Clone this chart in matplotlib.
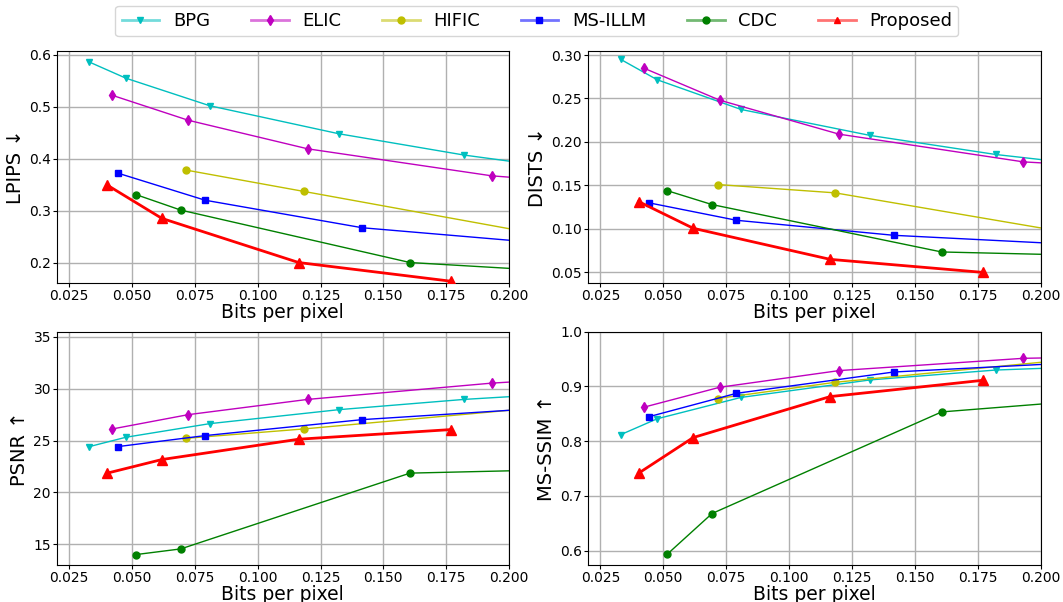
import matplotlib
matplotlib.use("Agg")
import matplotlib.pyplot as plt
from matplotlib.colors import to_rgba

# bits per pixel for each method (last points sit past the 0.2 x-limit)
bpg_bpp = [0.0331, 0.0476, 0.0809, 0.1323, 0.1821, 0.26]
elic_bpp = [0.0422, 0.0724, 0.1199, 0.1931, 0.26]
hific_bpp = [0.0716, 0.1183, 0.24]
msillm_bpp = [0.0445, 0.0791, 0.1416, 0.28]
cdc_bpp = [0.0515, 0.0694, 0.1606, 0.28]
ours_bpp = [0.0402, 0.0619, 0.1163, 0.1769]

# LPIPS
bpg_lpips = [0.586, 0.555, 0.502, 0.448, 0.407, 0.356]
elic_lpips = [0.522, 0.474, 0.419, 0.367, 0.342]
hific_lpips = [0.378, 0.337, 0.230]
msillm_lpips = [0.372, 0.320, 0.267, 0.210]
cdc_lpips = [0.331, 0.301, 0.200, 0.166]
ours_lpips = [0.349, 0.285, 0.200, 0.164]

# DISTS
bpg_dists = [0.295, 0.2715, 0.2373, 0.2073, 0.1854, 0.160]
elic_dists = [0.285, 0.248, 0.2088, 0.1769, 0.166]
hific_dists = [0.1508, 0.1412, 0.081]
msillm_dists = [0.1296, 0.1096, 0.0923, 0.072]
cdc_dists = [0.1438, 0.1277, 0.0731, 0.065]
ours_dists = [0.1312, 0.1004, 0.0646, 0.0496]

# PSNR
bpg_psnr = [24.42, 25.32, 26.63, 27.98, 28.97, 30.1]
elic_psnr = [26.12, 27.50, 28.97, 30.54, 31.5]
hific_psnr = [25.22, 26.12, 28.8]
msillm_psnr = [24.42, 25.48, 27.02, 29.15]
cdc_psnr = [14.00, 14.55, 21.86, 22.53]
ours_psnr = [21.86, 23.17, 25.13, 26.06]

# MS-SSIM
bpg_msssim = [0.812, 0.841, 0.880, 0.912, 0.930, 0.943]
elic_msssim = [0.862, 0.8985, 0.929, 0.9514, 0.957]
hific_msssim = [0.878, 0.9076, 0.962]
msillm_msssim = [0.845, 0.8875, 0.9264, 0.959]
cdc_msssim = [0.5933, 0.668, 0.8535, 0.897]
ours_msssim = [0.7416, 0.8067, 0.8815, 0.9112]

names = ["BPG", "ELIC", "HIFIC", "MS-ILLM", "CDC", "Proposed"]
bpps = [bpg_bpp, elic_bpp, hific_bpp, msillm_bpp, cdc_bpp, ours_bpp]
metrics = {
    "LPIPS ↓": [bpg_lpips, elic_lpips, hific_lpips, msillm_lpips, cdc_lpips, ours_lpips],
    "DISTS ↓": [bpg_dists, elic_dists, hific_dists, msillm_dists, cdc_dists, ours_dists],
    "PSNR ↑": [bpg_psnr, elic_psnr, hific_psnr, msillm_psnr, cdc_psnr, ours_psnr],
    "MS-SSIM ↑": [bpg_msssim, elic_msssim, hific_msssim, msillm_msssim, cdc_msssim, ours_msssim],
}
ylims = {
    "LPIPS ↓": (0.16, 0.608),
    "DISTS ↓": (0.037, 0.305),
    "PSNR ↑": (13.0, 35.5),
    "MS-SSIM ↑": (0.574, 1.0),
}

colors = ["c", "m", "y", "b", "g", "r"]
markers = ["v", "d", "o", "s", "o", "^"]

fig = plt.figure(figsize=(10.63, 6.02), dpi=100)
positions = [
    [0.0532, 0.5294, 0.4257, 0.3864],
    [0.5529, 0.5294, 0.4262, 0.3864],
    [0.0532, 0.0615, 0.4257, 0.3875],
    [0.5529, 0.0615, 0.4262, 0.3875],
]

for pos, (label, series) in zip(positions, metrics.items()):
    ax = fig.add_axes(pos)
    for name, x, y, c, m in zip(names, bpps, series, colors, markers):
        if name == "Proposed":
            ax.plot(x, y, color=c, marker=m, markersize=7, linewidth=2, label=name, zorder=5)
        else:
            ax.plot(x, y, color=c, marker=m, markersize=5, linewidth=1, label=name)
    ax.set_xlim(0.02, 0.2)
    ax.set_ylim(*ylims[label])
    ax.set_xticks([0.025, 0.05, 0.075, 0.1, 0.125, 0.15, 0.175, 0.2])
    ax.set_xlabel("Bits per pixel", fontsize=13.5, labelpad=0)
    ax.set_ylabel(label, fontsize=14, labelpad=3)
    ax.tick_params(labelsize=10, length=3, pad=1)
    ax.grid(True, color="#b0b0b0", linewidth=1)
    if label == "LPIPS ↓":
        handles, labels = ax.get_legend_handles_labels()

leg = fig.legend(handles, labels, loc="center", bbox_to_anchor=(0.505, 0.965),
                 ncol=6, fontsize=13, columnspacing=2.25, handlelength=2.1,
                 handletextpad=0.75, borderpad=0.35)
# faded legend lines, solid markers
for h, c in zip(leg.legend_handles, colors):
    h.set_color(to_rgba(c, 0.55))
    h.set_markerfacecolor(c)
    h.set_markeredgecolor(c)
    h.set_linewidth(2)
    h.set_markersize(5)

fig.savefig("out.png", dpi=100)
